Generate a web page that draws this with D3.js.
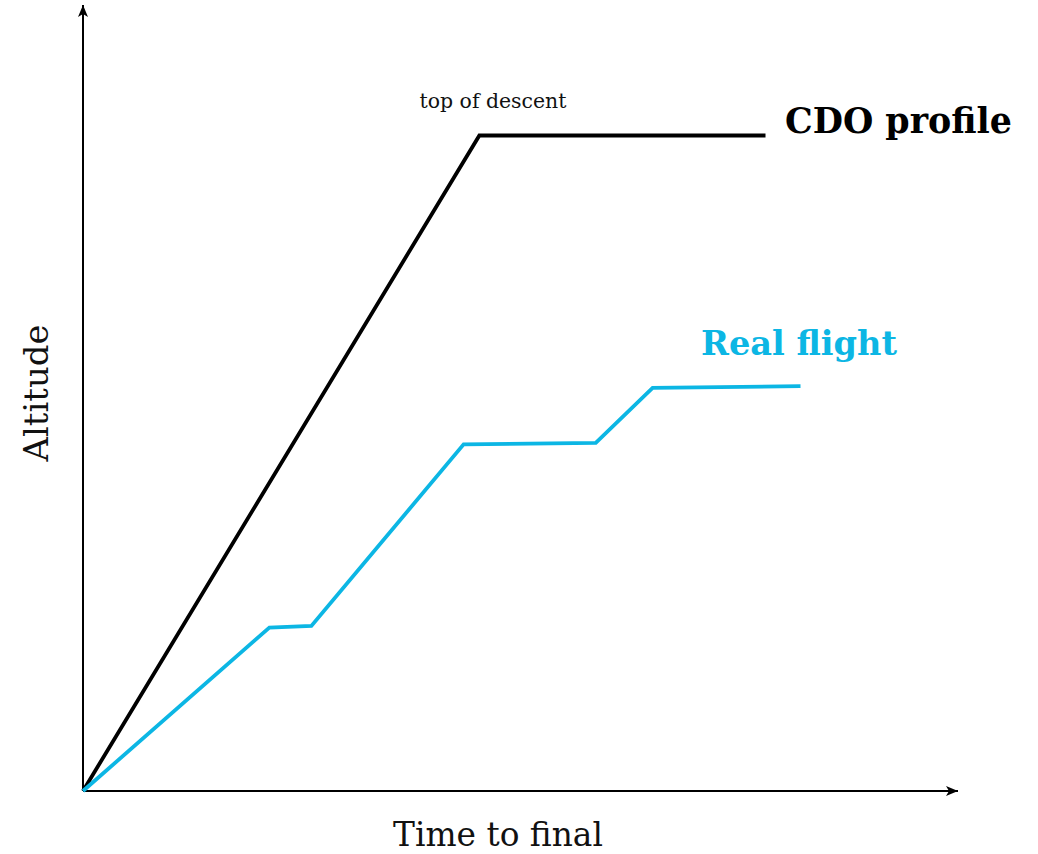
<!DOCTYPE html>
<html>
<head>
<meta charset="utf-8">
<script src="https://cdn.jsdelivr.net/npm/d3@7"></script>
<style>
  html, body { margin: 0; padding: 0; background: #fff; }
  svg { display: block; }
  text { font-family: "DejaVu Serif", "Liberation Serif", serif; }
</style>
</head>
<body>
<svg id="chart" width="1038" height="854"></svg>
<script>
// Data (abstract units: time 0..100, altitude 0..100)
const cdoTime = [0, 45.3, 78.0];
const cdoAlt  = [0, 83.4, 83.4];
const realTime = [0, 21.3, 26.1, 43.5, 58.6, 65.1, 82.0];
const realAlt  = [0, 20.8, 21.0, 44.1, 44.3, 51.3, 51.5];
const seriesNames = ["CDO profile", "Real flight"];
const annotation = "top of descent";
const xAxisLabel = "Time to final";
const yAxisLabel = "Altitude";

const svg = d3.select("#chart");
const x = d3.scaleLinear().domain([0, 100]).range([83, 958]);
const y = d3.scaleLinear().domain([0, 100]).range([791, 5]);

const blue = "#0cb6e4";

// arrow marker
const defs = svg.append("defs");
defs.append("marker")
  .attr("id", "arrow")
  .attr("viewBox", "0 0 12 10")
  .attr("refX", 12).attr("refY", 5)
  .attr("markerWidth", 12).attr("markerHeight", 10)
  .attr("markerUnits", "userSpaceOnUse")
  .attr("orient", "auto")
  .append("path")
  .attr("d", "M0,0 L12,5 L0,10 L3,5 Z")
  .attr("fill", "#000");

// axes
svg.append("line")
  .attr("x1", x(0)).attr("y1", y(0))
  .attr("x2", x(0)).attr("y2", y(100))
  .attr("stroke", "#000").attr("stroke-width", 2)
  .attr("marker-end", "url(#arrow)");
svg.append("line")
  .attr("x1", x(0)).attr("y1", y(0))
  .attr("x2", x(100)).attr("y2", y(0))
  .attr("stroke", "#000").attr("stroke-width", 2)
  .attr("marker-end", "url(#arrow)");

const line = d3.line().x(d => x(d[0])).y(d => y(d[1]));

const cdo = cdoTime.map((t, i) => [t, cdoAlt[i]]);
const real = realTime.map((t, i) => [t, realAlt[i]]);

svg.append("path").datum(cdo)
  .attr("d", line)
  .attr("fill", "none").attr("stroke", "#000").attr("stroke-width", 3.8)
  .attr("stroke-linejoin", "miter");

svg.append("path").datum(real)
  .attr("d", line)
  .attr("fill", "none").attr("stroke", blue).attr("stroke-width", 3.8)
  .attr("stroke-linejoin", "miter");

// fit a text's font size so its width matches a target width
function fit(sel, target, base) {
  sel.attr("font-size", base);
  const w = sel.node().getComputedTextLength();
  sel.attr("font-size", (base * target / w).toFixed(2));
  return sel;
}

// labels
fit(svg.append("text")
  .attr("x", 493).attr("y", 108)
  .attr("text-anchor", "middle")
  .attr("fill", "#111")
  .text(annotation), 147, 18);

fit(svg.append("text")
  .attr("x", 785).attr("y", 133)
  .attr("font-weight", "bold").attr("fill", "#000")
  .text(seriesNames[0]), 227, 32);

fit(svg.append("text")
  .attr("x", 701).attr("y", 355)
  .attr("font-weight", "bold").attr("fill", blue)
  .text(seriesNames[1]), 196, 32);

fit(svg.append("text")
  .attr("x", 498).attr("y", 846)
  .attr("text-anchor", "middle")
  .attr("fill", "#111")
  .text(xAxisLabel), 210, 32);

fit(svg.append("text")
  .attr("transform", "translate(48,393) rotate(-90)")
  .attr("text-anchor", "middle")
  .attr("fill", "#111")
  .text(yAxisLabel), 137, 32);
</script>
</body>
</html>
